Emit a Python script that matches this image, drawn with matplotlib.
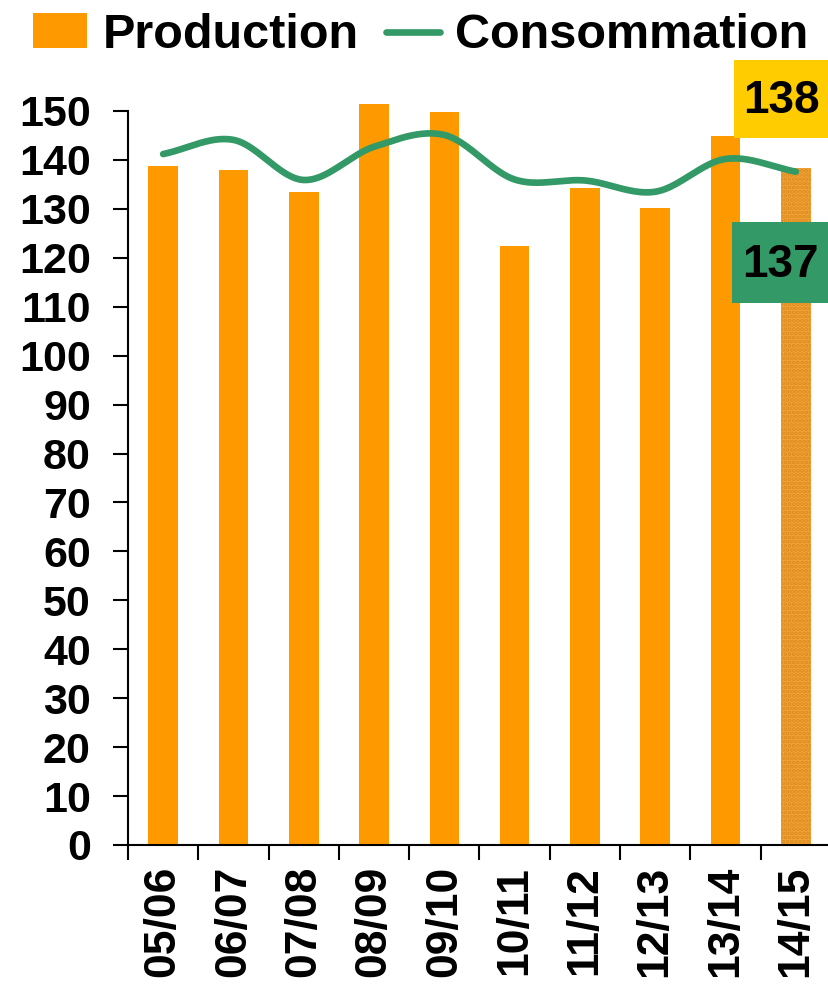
import numpy as np
import matplotlib
matplotlib.use('Agg')
import matplotlib.pyplot as plt
from matplotlib.patches import Rectangle
from matplotlib.lines import Line2D

# ---- data ----
seasons = ["05/06", "06/07", "07/08", "08/09", "09/10",
           "10/11", "11/12", "12/13", "13/14", "14/15"]
production = [138.8, 137.9, 133.5, 151.4, 149.8, 122.4, 134.3, 130.2, 144.9, 138.4]
consommation = [141.2, 144.1, 135.9, 142.7, 145.1, 136.0, 135.8, 133.5, 140.2, 137.6]
yticks = list(range(0, 151, 10))
label_prod = "138"
label_cons = "137"
legend_labels = ["Production", "Consommation"]

ORANGE = '#FF9900'
GREEN = '#339966'
YELLOW = '#FFCC00'

plt.rcParams['font.family'] = ['Liberation Sans', 'DejaVu Sans']
plt.rcParams['font.weight'] = 'bold'
plt.rcParams['hatch.linewidth'] = 2.0

W, H = 829, 984
fig = plt.figure(figsize=(W / 100, H / 100), dpi=100)

def fx(px):
    return px / W

def fy(py):
    return 1 - py / H

ax = fig.add_axes([fx(128), fy(845), (831 - 128) / W, (845 - 111) / H])

x = np.arange(len(seasons))
bars = ax.bar(x, production, width=0.42, color=ORANGE, linewidth=0,
              clip_on=False, zorder=2)
bars[-1].set_facecolor('#F4A436')
bars[-1].set_edgecolor('#DB8A1E')
bars[-1].set_hatch('....')
bars[-1].set_linewidth(0)


def catmull_rom(xs, ys, n=40):
    pts = np.column_stack([xs, ys]).astype(float)
    P = np.vstack([pts[0] - (pts[1] - pts[0]), pts, pts[-1] + (pts[-1] - pts[-2])])
    out = []
    t = np.linspace(0, 1, n, endpoint=False)[:, None]
    for i in range(1, len(P) - 2):
        p0, p1, p2, p3 = P[i - 1], P[i], P[i + 1], P[i + 2]
        seg = 0.5 * ((2 * p1) + (-p0 + p2) * t + (2 * p0 - 5 * p1 + 4 * p2 - p3) * t ** 2
                     + (-p0 + 3 * p1 - 3 * p2 + p3) * t ** 3)
        out.append(seg)
    out.append(pts[-1:])
    return np.vstack(out)


curve = catmull_rom(x, consommation)
ax.plot(curve[:, 0], curve[:, 1], color=GREEN, lw=4.8, solid_capstyle='round',
        zorder=3, clip_on=False)

ax.set_xlim(-0.5, len(seasons) - 0.5)
ax.set_ylim(0, 150)
ax.set_yticks(yticks)
ax.set_yticklabels([str(v) for v in yticks], fontsize=31, fontweight='bold')
ax.set_xticks(x)
ax.set_xticklabels(seasons, rotation=90, fontsize=32, fontweight='bold')
ax.set_xticks(np.arange(-0.5, len(seasons), 1), minor=True)
ax.tick_params(axis='x', which='major', length=0, pad=15)
ax.tick_params(axis='x', which='minor', length=10.8, width=1.5, direction='out')
ax.tick_params(axis='y', which='major', length=10.8, width=1.5, direction='out', pad=16)

for s in ['top', 'right']:
    ax.spines[s].set_visible(False)
for s in ['left', 'bottom']:
    ax.spines[s].set_linewidth(1.5)
    ax.spines[s].set_color('black')
ax.spines['bottom'].set_zorder(4)

# ---- legend (manual) ----
fig.patches.append(Rectangle((fx(33), fy(48)), 54 / W, 35 / H, transform=fig.transFigure,
                             facecolor=ORANGE, edgecolor='none'))
fig.text(fx(103), fy(48), legend_labels[0], fontsize=35, fontweight='bold',
         ha='left', va='baseline')
fig.lines.append(Line2D([fx(386), fx(440)], [fy(32), fy(32)], transform=fig.transFigure,
                        color=GREEN, lw=4.8, solid_capstyle='round'))
fig.text(fx(455), fy(48), legend_labels[1], fontsize=35, fontweight='bold',
         ha='left', va='baseline')

# ---- value labels ----
fig.patches.append(Rectangle((fx(734), fy(138)), (829 - 734) / W, (138 - 60) / H,
                             transform=fig.transFigure, facecolor=YELLOW, edgecolor='none'))
fig.text(fx(781), fy(113), label_prod, fontsize=33, fontweight='bold',
         ha='center', va='baseline')
fig.patches.append(Rectangle((fx(732), fy(303)), (829 - 732) / W, (303 - 222) / H,
                             transform=fig.transFigure, facecolor=GREEN, edgecolor='none',
                             zorder=5))
fig.text(fx(780), fy(277), label_cons, fontsize=33, fontweight='bold',
         ha='center', va='baseline', zorder=6)

fig.savefig('out.png', dpi=100)
